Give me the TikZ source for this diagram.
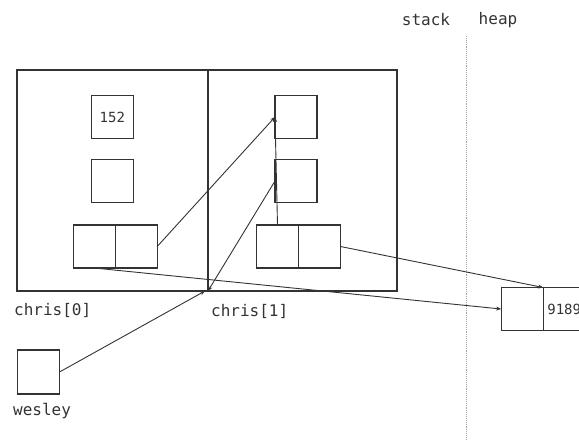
\documentclass[tikz,border=0pt]{standalone}
\usepackage{fontspec}
\setmonofont{DejaVu Sans Mono}
\usetikzlibrary{arrows.meta,positioning}
\definecolor{inkgray}{RGB}{51,51,51}

\begin{document}
\begin{tikzpicture}[x=1pt, y=-1pt, >={Stealth[length=5pt,width=4pt]},
    cell/.style={draw=inkgray, line width=1.2pt, minimum width=42pt, minimum height=43pt,
        inner sep=0pt, outer sep=0pt, text=inkgray, font=\ttfamily\fontsize{14}{14}\selectfont},
    frame/.style={draw=inkgray, line width=1.2pt, minimum height=221pt, inner sep=0pt, outer sep=0pt},
    lbl/.style={text=inkgray, inner sep=0pt, font=\ttfamily\fontsize{16}{16}\selectfont},
    ptr/.style={->, draw=inkgray, line width=0.9pt}]
    \clip (0,0) rectangle (579,440);

    % stack / heap split
    \node[lbl] (stk) at (426,20) {stack};
    \node[lbl] (hp) at (498,20) {heap};
    \draw[gray!70, densely dotted, line width=0.9pt] (466,36) -- (466,440);

    % chris[0]
    \node[frame, minimum width=191pt] (c0) at (112.5,180.5) {};
    \node[cell] (t0) at (112.3,117) {152};
    \node[cell] (m0) at (112.3,181) {};
    \node[cell] (p0a) at (94.2,246.5) {};
    \node[cell, right=0pt of p0a] (p0b) {};
    \node[lbl, anchor=west] (l0) at (14,310) {chris[0]};

    % chris[1]
    \node[frame, minimum width=189pt] (c1) at (302.5,180.5) {};
    \node[cell] (t1) at (296,117) {};
    \node[cell] (m1) at (296,181) {};
    \node[cell] (p1a) at (277.5,246.5) {};
    \node[cell, right=0pt of p1a] (p1b) {};
    \node[lbl, anchor=west] (l1) at (211,311) {chris[1]};

    % wesley
    \node[cell, minimum height=44pt] (w) at (38.5,372) {};
    \node[lbl, anchor=west] (lw) at (13,411) {wesley};

    % heap
    \node[cell] (h1) at (522.2,309) {};
    \node[cell, right=0pt of h1] (h2) {9189};

    % pointers
    \draw[ptr] (p0b.east) -- (t1.west);
    \draw[ptr] (p1a.north) -- (t1.west);
    \draw[ptr] (m1.west) -- (c1.south west);
    \draw[ptr] (w.east) -- ([xshift=-3pt]c1.south west);
    \draw[ptr] (p0a.south) -- (h1.west);
    \draw[ptr] (p1b.east) -- (h1.north east);
\end{tikzpicture}
\end{document}
